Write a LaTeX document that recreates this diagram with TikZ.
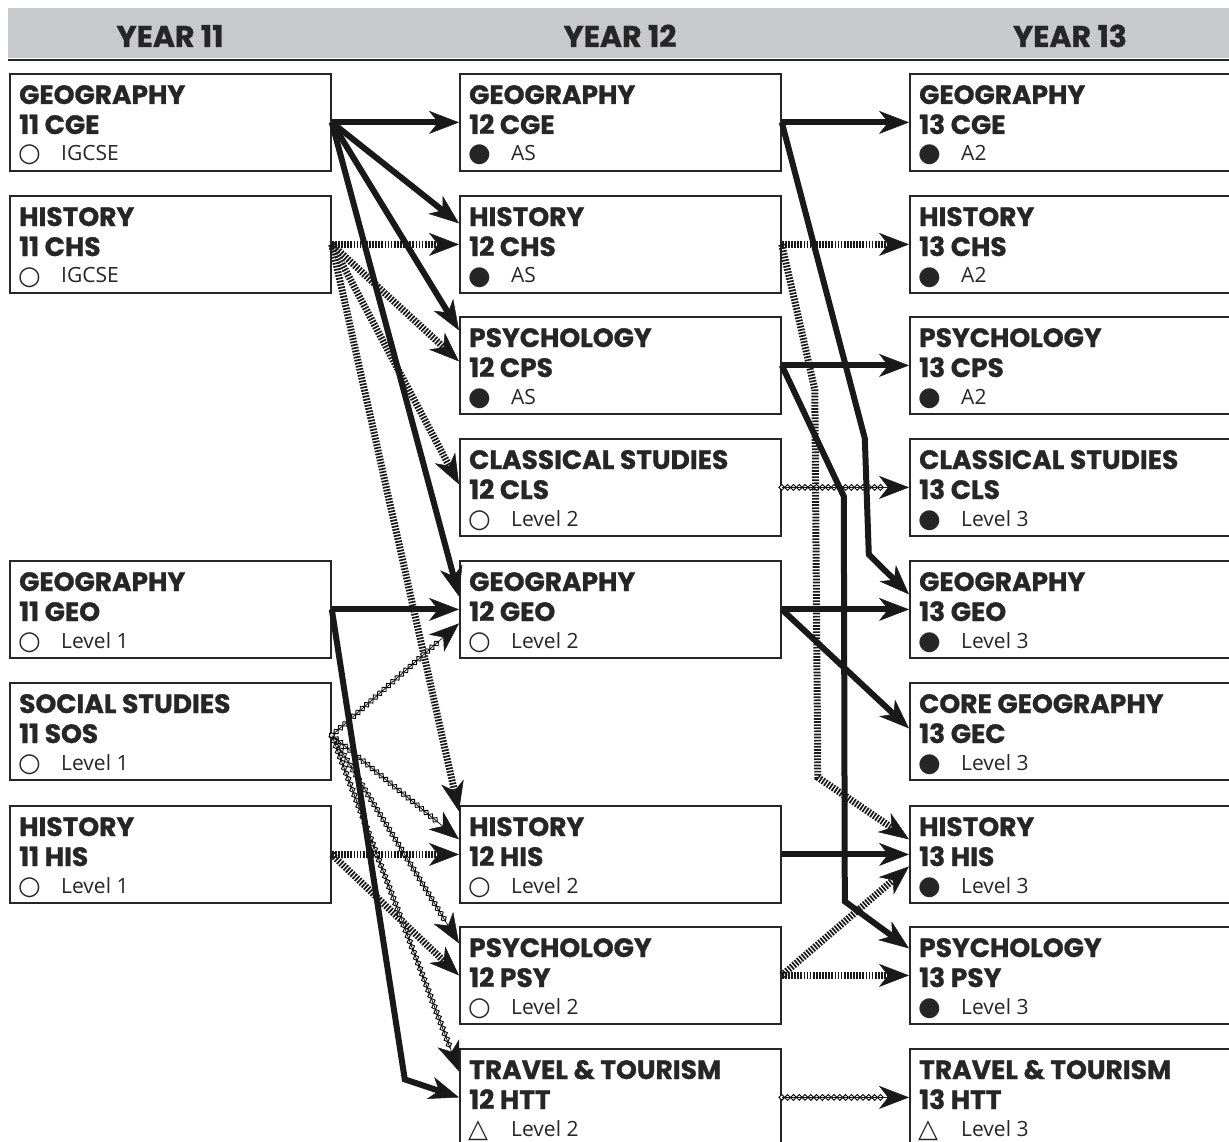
\documentclass[tikz,border=0pt]{standalone}
\usepackage{fontspec}
\setmainfont{Open Sans}
\newfontfamily\headfont{Poppins}[BoldFeatures={FakeBold=1}]
\newfontfamily\symfont{DejaVu Sans}
\usetikzlibrary{arrows.meta,decorations.markings,calc}

\definecolor{headgray}{RGB}{200,201,203}

\tikzset{
  ctip/.tip={Stealth[length=30pt,width=23pt,inset=9pt,line width=0.5pt]},
  coursebox/.style={draw=black!85, line width=1.8pt, minimum width=321pt,
    minimum height=97pt, anchor=north west, inner sep=0pt},
  headtext/.style={anchor=base, inner sep=0pt, text=black!85,
    font=\headfont\bfseries\fontsize{30}{30}\selectfont},
  titletext/.style={anchor=base west, inner sep=0pt, text=black!85,
    font=\headfont\bfseries\fontsize{26.5}{27}\selectfont},
  leveltext/.style={anchor=base west, inner sep=0pt, text=black!85,
    font=\fontsize{21}{21}\selectfont},
  symtext/.style={anchor=base west, inner sep=0pt, text=black!85,
    font=\symfont\fontsize{26}{26}\selectfont},
  solidline/.style={line width=6pt, draw=black!90, -ctip},
  hatchline/.style={line width=7pt, draw=black!90, dash pattern=on 1.7pt off 1.4pt, -ctip},
  diamondline/.style={line width=0.8pt, draw=black!90, -ctip, preaction={decorate},
    decoration={markings, mark=between positions 0 and -26pt step 5.8pt with
      {\draw[line width=0.9pt, fill=white] (-2.9pt,0) -- (0,2.9pt) -- (2.9pt,0) -- (0,-2.9pt) -- cycle;}}},
}

% one course box: name, top left corner, title, code, symbol, level
\newcommand\course[6]{%
  \node[coursebox] (#1) at (#2) {};
  \node[titletext] (#1-t) at ($(#1.north west)+(10,-31)$) {#3};
  \node[titletext] (#1-c) at ($(#1.north west)+(10,-61)$) {#4};
  \node[symtext] (#1-s) at ($(#1.north west)+(9,-89)$) {#5};
  \node[leveltext] (#1-l) at ($(#1.north west)+(52,-88)$) {#6};
}

\begin{document}
\begin{tikzpicture}[x=1pt,y=1pt]
  \useasboundingbox (0,0) rectangle (1229,-1142);
  \clip (0,0) rectangle (1229,-1142);

  % Draw the header
  \fill[headgray] (8,-8) rectangle (1229,-58);
  \draw[line width=2.5pt, black!85] (8,-60) -- (1229,-60);
  \node[headtext] (year11) at (170,-47) {YEAR 11};
  \node[headtext] (year12) at (620,-47) {YEAR 12};
  \node[headtext] (year13) at (1070,-47) {YEAR 13};

  % Draw the year 11 boxes
  \course{cge11}{9,-73}{GEOGRAPHY}{11 CGE}{○}{IGCSE}
  \course{chs11}{9,-195}{HISTORY}{11 CHS}{○}{IGCSE}
  \course{geo11}{9,-560}{GEOGRAPHY}{11 GEO}{○}{Level 1}
  \course{sos11}{9,-682}{SOCIAL STUDIES}{11 SOS}{○}{Level 1}
  \course{his11}{9,-805}{HISTORY}{11 HIS}{○}{Level 1}

  % Draw the year 12 boxes
  \course{cge12}{459,-73}{GEOGRAPHY}{12 CGE}{●}{AS}
  \course{chs12}{459,-195}{HISTORY}{12 CHS}{●}{AS}
  \course{cps12}{459,-316}{PSYCHOLOGY}{12 CPS}{●}{AS}
  \course{cls12}{459,-438}{CLASSICAL STUDIES}{12 CLS}{○}{Level 2}
  \course{geo12}{459,-560}{GEOGRAPHY}{12 GEO}{○}{Level 2}
  \course{his12}{459,-805}{HISTORY}{12 HIS}{○}{Level 2}
  \course{psy12}{459,-926}{PSYCHOLOGY}{12 PSY}{○}{Level 2}
  \course{htt12}{459,-1048}{TRAVEL \& TOURISM}{12 HTT}{△}{Level 2}

  % Draw the year 13 boxes
  \course{cge13}{909,-73}{GEOGRAPHY}{13 CGE}{●}{A2}
  \course{chs13}{909,-195}{HISTORY}{13 CHS}{●}{A2}
  \course{cps13}{909,-316}{PSYCHOLOGY}{13 CPS}{●}{A2}
  \course{cls13}{909,-438}{CLASSICAL STUDIES}{13 CLS}{●}{Level 3}
  \course{geo13}{909,-560}{GEOGRAPHY}{13 GEO}{●}{Level 3}
  \course{gec13}{909,-682}{CORE GEOGRAPHY}{13 GEC}{●}{Level 3}
  \course{his13}{909,-805}{HISTORY}{13 HIS}{●}{Level 3}
  \course{psy13}{909,-926}{PSYCHOLOGY}{13 PSY}{●}{Level 3}
  \course{htt13}{909,-1048}{TRAVEL \& TOURISM}{13 HTT}{△}{Level 3}

  % Draw the year 11 to year 12 arrows
  \draw[hatchline] (chs11.east) -- (chs12.west);
  \draw[hatchline] (chs11.east) -- ([yshift=4pt]cps12.west);
  \draw[hatchline] (chs11.east) -- ([yshift=3pt]cls12.west);
  \draw[hatchline] (chs11.east) -- ([yshift=43pt]his12.west);
  \draw[hatchline] (his11.east) -- (his12.west);
  \draw[hatchline] (his11.east) -- (psy12.west);
  \draw[diamondline] ([yshift=-4pt]sos11.east) -- ([yshift=-14pt]geo12.west);
  \draw[diamondline] ([yshift=-4pt]sos11.east) -- ([yshift=15pt]his12.west);
  \draw[diamondline] ([yshift=-4pt]sos11.east) -- ([yshift=32pt]psy12.west);
  \draw[diamondline] ([yshift=-4pt]sos11.east) -- ([yshift=26pt]htt12.west);
  \draw[solidline] (cge11.east) -- (cge12.west);
  \draw[solidline] (cge11.east) -- ([yshift=21pt]chs12.west);
  \draw[solidline] (cge11.east) -- ([yshift=35pt]cps12.west);
  \draw[solidline] (cge11.east) -- ([yshift=13pt]geo12.west);
  \draw[solidline] (geo11.east) -- (geo12.west);
  \draw[solidline] (geo11.east) -- ++(73,-470) -- (htt12.west);

  % Draw the year 12 to year 13 arrows
  \draw[hatchline] (chs12.east) -- (chs13.west);
  \draw[hatchline] (chs12.east) -- ++(33,-145) -- ++(3,-388) -- ([yshift=15pt]his13.west);
  \draw[hatchline] (psy12.east) -- (psy13.west);
  \draw[hatchline] (psy12.east) -- ([yshift=-12pt]his13.west);
  \draw[diamondline] (cls12.east) -- (cls13.west);
  \draw[diamondline] (htt12.east) -- (htt13.west);
  \draw[solidline] (cge12.east) -- (cge13.west);
  \draw[solidline] (cge12.east) -- ++(83,-316) -- ++(4,-116) -- ([yshift=15pt]geo13.west);
  \draw[solidline] (cps12.east) -- (cps13.west);
  \draw[solidline] (cps12.east) -- ++(62,-131) -- ++(1,-405) -- ([yshift=27pt]psy13.west);
  \draw[solidline] (geo12.east) -- (geo13.west);
  \draw[solidline] (geo12.east) -- ([yshift=3pt]gec13.west);
  \draw[solidline] (his12.east) -- (his13.west);
\end{tikzpicture}
\end{document}
